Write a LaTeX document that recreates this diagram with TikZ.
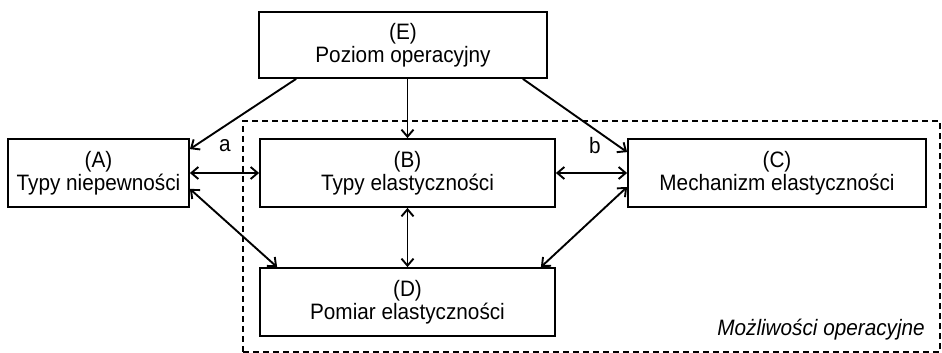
\documentclass[tikz,border=0pt]{standalone}
\usepackage{fontspec}
\setmainfont{Liberation Sans}[FakeStretch=0.93]
\usetikzlibrary{arrows.meta}
\tikzset{
  box/.style={draw, line width=1.8pt, fill=white, align=center,
    inner sep=0pt, font=\fontsize{22.3}{22.5}\selectfont},
  link/.style={line width=1.9pt, -{Straight Barb[length=7pt,width=12pt]}},
  both/.style={line width=1.9pt, {Straight Barb[length=7pt,width=12pt]}-{Straight Barb[length=7pt,width=12pt]}},
  tag/.style={font=\fontsize{22.3}{22.5}\selectfont, inner sep=0pt}
}
\begin{document}
\begin{tikzpicture}[x=1pt,y=-1pt]
\useasboundingbox (0,0) rectangle (942,353);
% operational capabilities frame
\node[draw, dashed, dash pattern=on 6pt off 4pt, line width=1.3pt,
  minimum width=697pt, minimum height=231pt, inner sep=0pt] (ops) at (591.5,236.5) {};
\node[tag, anchor=base east, font=\fontsize{22.3}{22.5}\selectfont\itshape] (opslabel) at (925,335) {Możliwości operacyjne};
% boxes
\node[box, minimum width=288pt, minimum height=66pt] (E) at (403,45) {(E)\\Poziom operacyjny};
\node[box, minimum width=181pt, minimum height=68pt] (A) at (98.5,173) {(A)\\Typy niepewności};
\node[box, minimum width=295pt, minimum height=68pt] (B) at (407.5,173) {(B)\\Typy elastyczności};
\node[box, minimum width=298pt, minimum height=68pt] (C) at (777,173) {(C)\\Mechanizm elastyczności};
\node[box, minimum width=295pt, minimum height=68pt] (D) at (407.5,302) {(D)\\Pomiar elastyczności};
% connectors
\draw[link] ([xshift=38pt]E.south west) -- ([yshift=-11pt]A.north east);
\draw[link] (E.south -| B.north) -- (B.north);
\draw[link] ([xshift=-25pt]E.south east) -- ([yshift=-14pt]C.north west);
\draw[both] (A.east) -- (B.west);
\draw[both] (B.east) -- (C.west);
\draw[both] ([yshift=19pt]A.south east) -- ([xshift=18pt]D.north west);
\draw[both] (B.south) -- (D.north);
\draw[both] ([yshift=-14pt]C.west) -- ([xshift=-15pt]D.north east);
% labels
\node[tag] (la) at (225,146) {a};
\node[tag] (lb) at (595,146) {b};
\end{tikzpicture}
\end{document}
